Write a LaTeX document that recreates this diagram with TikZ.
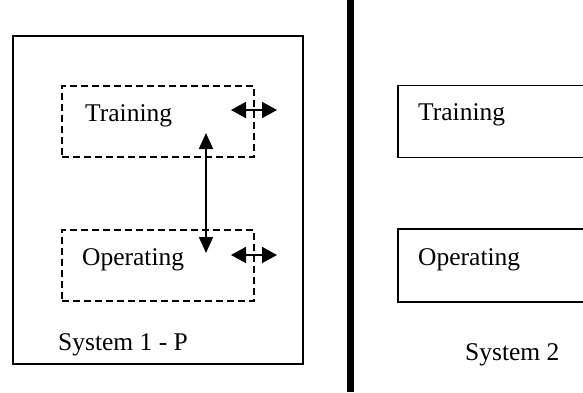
\documentclass[tikz,border=0pt]{standalone}
\usepackage{fontspec}
\setmainfont{Liberation Serif}
\usetikzlibrary{arrows.meta}
\begin{document}
\begin{tikzpicture}[x=1pt,y=-1pt,
  frame/.style={draw=black,line width=1.3pt,rectangle,inner sep=0pt},
  dbox/.style={draw=black,line width=1.3pt,dash pattern=on 7pt off 4pt,rectangle,inner sep=0pt},
  lbl/.style={anchor=base west,inner sep=0pt,font=\fontsize{25.5}{28}\selectfont},
  harr/.style={line width=1.8pt,{Triangle[length=15pt,width=16pt]}-{Triangle[length=15pt,width=16pt]}},
  varr/.style={line width=1.8pt,{Triangle[length=16pt,width=14pt]}-{Triangle[length=16pt,width=14pt]}}
]
\clip (0,0) rectangle (583,392);
\useasboundingbox (0,0) rectangle (583,392);
% System 1
\node[frame,minimum width=290pt,minimum height=328pt] (sys1) at (158,200) {};
\node[dbox,minimum width=192pt,minimum height=71pt] (tr1) at (158,121.5) {};
\node[dbox,minimum width=192pt,minimum height=71pt] (op1) at (158,265.5) {};
\node[lbl] (tr1t) at (85,121) {Training};
\node[lbl] (op1t) at (82,265) {Operating};
\node[lbl] (s1t) at (58,350) {System 1 - P};
\coordinate (va) at (206,133);
\coordinate (vb) at (206,253);
\draw[varr] (va) -- (vb);
\coordinate (ha1) at (231,110);
\coordinate (hb1) at (277,110);
\draw[harr] (ha1) -- (hb1);
\coordinate (ha2) at (231,255);
\coordinate (hb2) at (277,255);
\draw[harr] (ha2) -- (hb2);
% divider
\coordinate (bt) at (350.5,0);
\coordinate (bb) at (350.5,392);
\draw[line width=7pt] (bt) -- (bb);
% System 2
\node[frame,minimum width=220pt,minimum height=72pt] (tr2) at (508,121.5) {};
\node[frame,minimum width=220pt,minimum height=73pt] (op2) at (508,265.5) {};
\node[lbl] (tr2t) at (418,120) {Training};
\node[lbl] (op2t) at (418,265) {Operating};
\node[lbl] (s2t) at (465,360) {System 2};
\end{tikzpicture}
\end{document}
